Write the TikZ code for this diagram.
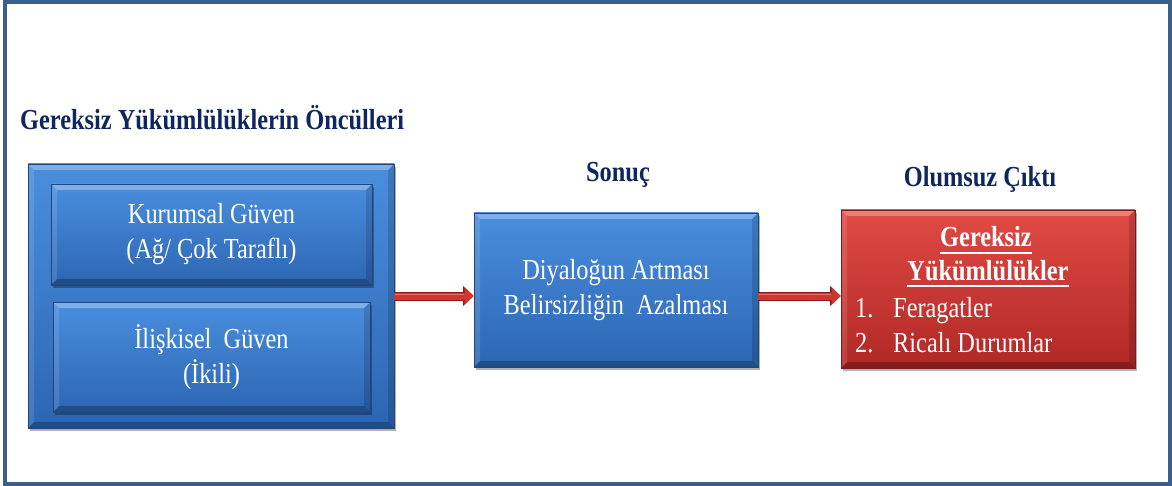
\documentclass[tikz,border=0pt]{standalone}
\usepackage{fontspec}
\setmainfont{Liberation Serif}[FakeStretch=0.84]
\usetikzlibrary{shadows,arrows.meta}
\definecolor{frameblue}{RGB}{59,94,142}
\definecolor{navy}{RGB}{16,38,94}
\definecolor{boxtop}{RGB}{74,142,222}
\definecolor{boxbot}{RGB}{44,102,178}
\definecolor{redtop}{RGB}{224,74,68}
\definecolor{redbot}{RGB}{176,40,38}
\definecolor{arrred}{RGB}{205,55,50}
\definecolor{arrdark}{RGB}{140,28,28}
\definecolor{arrlight}{RGB}{235,110,105}
\newcommand\myul[1]{\setbox0\hbox{#1}\rlap{\rule[-7pt]{\wd0}{1.8pt}}\box0}
\begin{document}
\begin{tikzpicture}[x=1pt,y=-1pt,
  bevel/.style={path picture={
    \fill[white,opacity=0.30] (path picture bounding box.north west) -- (path picture bounding box.north east)
      -- ([shift={(-6pt,-6pt)}]path picture bounding box.north east) -- ([shift={(6pt,-6pt)}]path picture bounding box.north west) -- cycle;
    \fill[white,opacity=0.12] (path picture bounding box.north west) -- (path picture bounding box.south west)
      -- ([shift={(6pt,6pt)}]path picture bounding box.south west) -- ([shift={(6pt,-6pt)}]path picture bounding box.north west) -- cycle;
    \fill[black,opacity=0.15] (path picture bounding box.north east) -- (path picture bounding box.south east)
      -- ([shift={(-6pt,6pt)}]path picture bounding box.south east) -- ([shift={(-6pt,-6pt)}]path picture bounding box.north east) -- cycle;
    \fill[black,opacity=0.25] (path picture bounding box.south west) -- (path picture bounding box.south east)
      -- ([shift={(-6pt,6pt)}]path picture bounding box.south east) -- ([shift={(6pt,6pt)}]path picture bounding box.south west) -- cycle;
  }},
  boxtext/.style={text=white, font=\fontsize{29}{35}\selectfont, inner sep=0pt},
  bluebox/.style={rectangle, boxtext, align=center, draw=boxbot!70!black, line width=0.6pt,
    top color=boxtop, bottom color=boxbot, bevel,
    drop shadow={shadow xshift=1.5pt, shadow yshift=-3pt, fill=black, opacity=0.3}},
  redbox/.style={bluebox, draw=redbot!70!black, top color=redtop, bottom color=redbot},
  titletext/.style={text=navy, font=\fontsize{29}{35}\selectfont\bfseries, inner sep=0pt},
  redarrow/.style={draw=arrred, line width=7pt, -{Triangle[length=9pt,width=17pt]},
    preaction={draw=arrdark, line width=9pt, -{Triangle[length=10.5pt,width=19pt]}},
    postaction={draw=arrlight, line width=1.8pt, -, shorten >=10pt, shorten <=1pt, transform canvas={yshift=1.6pt}}}
]
\useasboundingbox (0,0) rectangle (1172,486);
\fill[white] (0,0) rectangle (1172,486);
\draw[frameblue, line width=4pt] (5,2) rectangle (1170,484);

\node[titletext, anchor=base west] (t1) at (20,130) {Gereksiz Yükümlülüklerin Öncülleri};
\node[titletext, anchor=base] (t2) at (618,182) {Sonuç};
\node[titletext, anchor=base] (t3) at (980,187) {Olumsuz Çıktı};

\node[bluebox, minimum width=366pt, minimum height=264pt] (outer) at (211,296) {};
\node[bluebox, minimum width=321pt, minimum height=101pt] (kurumsal) at (211.5,234.5) {Kurumsal Güven\\(Ağ/ Çok Taraflı)};
\node[bluebox, minimum width=317pt, minimum height=110pt] (iliskisel) at (211.5,357) {İlişkisel~~Güven\\(İkili)};
\node[bluebox, minimum width=284pt, minimum height=154pt] (sonuc) at (616,290) {Diyaloğun Artması\\Belirsizliğin~~Azalması};
\node[redbox, minimum width=294pt, minimum height=158pt] (cikti) at (988,289) {};

\node[boxtext, anchor=base] (g1) at (986,247) {\myul{\bfseries Gereksiz}};
\node[boxtext, anchor=base] (g2) at (988,280) {\myul{\bfseries Yükümlülükler}};
\node[boxtext, anchor=base west] (l1n) at (855,317) {1.};
\node[boxtext, anchor=base west] (l1) at (893,317) {Feragatler};
\node[boxtext, anchor=base west] (l2n) at (855,352) {2.};
\node[boxtext, anchor=base west] (l2) at (893,352) {Ricalı Durumlar};

\draw[redarrow] (outer.east) -- (outer.east -| sonuc.west);
\draw[redarrow] (sonuc.east |- outer.east) -- (outer.east -| cikti.west);
\end{tikzpicture}
\end{document}
